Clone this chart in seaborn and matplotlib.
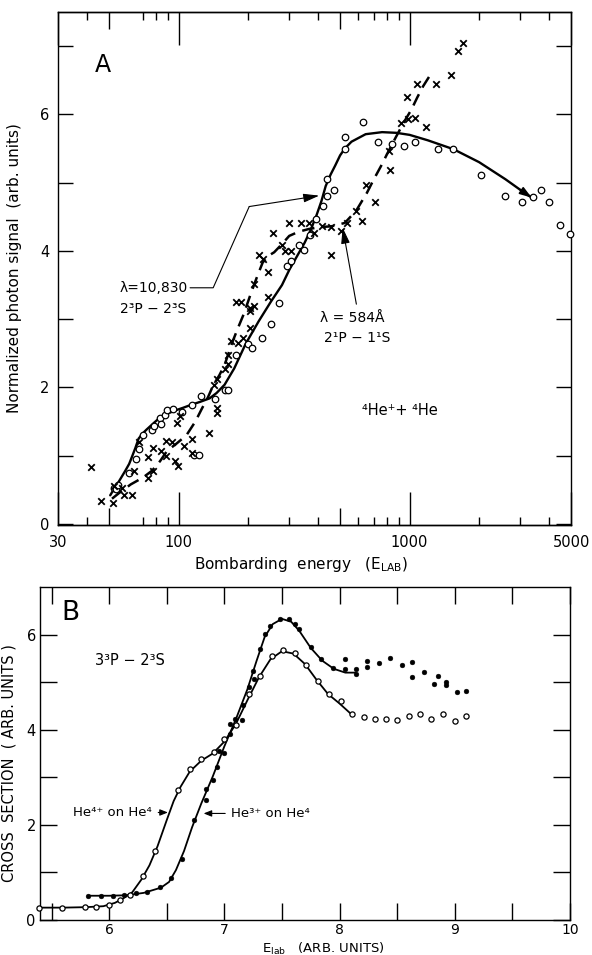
import numpy as np
import pandas as pd
import matplotlib
matplotlib.use("Agg")
import matplotlib.pyplot as plt
import matplotlib.ticker as mticker
import seaborn as sns

# ---------------- Panel A data ----------------
a_circ_x = [52.4, 53.3, 54.8, 61, 65, 67, 69.7, 76.6, 78, 82.6, 84, 87, 89, 94.5, 103, 114,
            116.5, 122, 125, 144, 158, 164, 177, 200, 208, 229, 252, 272, 294, 307, 331, 348,
            372, 394, 420, 437, 438, 471, 524, 524, 628, 731, 843, 944, 1059, 1331, 1549,
            2046, 2590, 3074, 3420, 3719, 4012, 4498, 4950]
a_circ_y = [0.53, 0.51, 0.57, 0.75, 0.95, 1.10, 1.30, 1.37, 1.44, 1.55, 1.47, 1.59, 1.67, 1.68,
            1.64, 1.75, 1.01, 1.01, 1.88, 1.83, 1.96, 1.96, 2.48, 2.63, 2.58, 2.73, 2.93, 3.24,
            3.78, 3.85, 4.08, 4.02, 4.24, 4.47, 4.66, 4.80, 5.05, 4.89, 5.49, 5.67, 5.89, 5.59,
            5.57, 5.54, 5.60, 5.49, 5.49, 5.11, 4.81, 4.72, 4.79, 4.89, 4.72, 4.38, 4.25]

a_cross_x = [41.8, 46, 51.9, 52.2, 56.7, 57.7, 62.7, 63.7, 67.6, 73.5, 77.7, 73.5, 77.7, 83.6,
             87.9, 87.9, 93.9, 96.4, 99.7, 98, 101, 105.8, 113.8, 113.8, 134.6, 145.9, 145.9,
             142.6, 146, 158, 163, 163, 169, 180, 189, 204, 204, 177, 187, 203, 212, 212, 222,
             231, 243, 243, 257, 279, 288, 307, 301, 338, 365, 386, 417, 455, 458, 504, 534,
             587, 622, 645, 705, 811, 826, 916, 982, 1059, 1178, 973, 1079, 1306, 1510, 1628, 1703]
a_cross_y = [0.83, 0.33, 0.31, 0.55, 0.53, 0.42, 0.42, 0.78, 1.20, 0.67, 0.78, 0.98, 1.12, 1.07,
             0.99, 1.22, 1.20, 0.92, 0.85, 1.48, 1.58, 1.14, 1.24, 1.04, 1.34, 1.70, 1.63,
             2.04, 2.13, 2.27, 2.34, 2.48, 2.68, 2.65, 2.73, 2.87, 3.17, 3.25, 3.25, 3.12, 3.20,
             3.52, 3.94, 3.88, 3.69, 3.33, 4.26, 4.09, 4.00, 4.00, 4.41, 4.41, 4.41, 4.26, 4.37,
             3.94, 4.35, 4.29, 4.41, 4.59, 4.44, 4.96, 4.72, 5.46, 5.19, 5.87, 5.93, 5.95, 5.82,
             6.26, 6.44, 6.44, 6.57, 6.93, 7.05]

# fitted curves (as drawn in the figure)
a_solid_x = [50.5, 52.4, 55, 58.7, 61, 63, 65, 67, 70, 72.4, 78, 83, 90, 96, 104, 112, 124, 136,
             146, 158, 174, 195, 222, 250, 280, 302, 325, 351, 372, 394, 415, 433, 455, 476,
             500, 524, 560, 645, 760, 876, 1000, 1200, 1549, 2000, 2600, 3000, 3380]
a_solid_y = [0.42, 0.51, 0.62, 0.78, 0.88, 1.00, 1.12, 1.25, 1.33, 1.38, 1.48, 1.56, 1.62, 1.66,
             1.70, 1.74, 1.79, 1.84, 1.92, 2.04, 2.28, 2.64, 2.97, 3.25, 3.50, 3.73, 3.92, 4.12,
             4.30, 4.51, 4.73, 4.95, 5.12, 5.25, 5.40, 5.50, 5.60, 5.71, 5.74, 5.73, 5.70, 5.62,
             5.49, 5.30, 5.05, 4.90, 4.78]
a_dash_x = [51.4, 55, 62, 70, 76.6, 83, 89, 98, 108, 118, 126, 134, 141, 150, 158, 171, 181, 191,
            206, 220, 231, 245, 259, 280, 301, 330, 365, 410, 458, 524, 587, 653, 700, 751, 810,
            876, 950, 1018, 1080, 1143, 1256]
a_dash_y = [0.37, 0.45, 0.58, 0.68, 0.78, 0.92, 1.07, 1.18, 1.30, 1.50, 1.69, 1.86, 2.03, 2.18,
            2.33, 2.67, 2.88, 3.07, 3.39, 3.65, 3.83, 3.93, 3.98, 4.10, 4.22, 4.28, 4.32, 4.35,
            4.36, 4.41, 4.59, 4.85, 5.05, 5.24, 5.46, 5.68, 5.90, 6.07, 6.25, 6.41, 6.63]

a_xticks = [30, 100, 1000, 5000]
a_xticklabels = ["30", "100", "1000", "5000"]
a_xminor = [40, 70, 80, 90, 200, 300, 400, 600, 700, 800, 900, 2000, 3000, 4000]
a_xmedium = [50, 500]
a_yticks = [0, 2, 4, 6]
a_yminor = [1, 3, 5, 7]

# ---------------- Panel B data ----------------
b_open_x = [5.39, 5.59, 5.79, 5.89, 6.00, 6.09, 6.18, 6.29, 6.40, 6.60, 6.70, 6.80, 6.91, 7.00,
            7.10, 7.21, 7.31, 7.41, 7.51, 7.61, 7.71, 7.81, 7.91, 8.01, 8.11, 8.21, 8.31, 8.40,
            8.50, 8.60, 8.70, 8.79, 8.90, 9.00, 9.10]
b_open_y = [0.26, 0.26, 0.28, 0.27, 0.31, 0.43, 0.53, 0.93, 1.44, 2.73, 3.18, 3.38, 3.54, 3.81,
            4.09, 4.75, 5.13, 5.54, 5.67, 5.61, 5.35, 5.03, 4.75, 4.61, 4.33, 4.27, 4.23, 4.22,
            4.20, 4.28, 4.33, 4.23, 4.34, 4.18, 4.28]
b_fill_x = [5.82, 5.93, 6.03, 6.13, 6.23, 6.33, 6.44, 6.54, 6.63, 6.74, 6.84, 6.84, 6.90, 6.94,
            6.95, 7.00, 7.05, 7.05, 7.09, 7.15, 7.16, 7.21, 7.25, 7.26, 7.31, 7.35, 7.40, 7.48,
            7.56, 7.61, 7.65, 7.75, 7.84, 7.94, 8.05, 8.05, 8.14, 8.14, 8.24, 8.24, 8.34, 8.44,
            8.54, 8.63, 8.63, 8.73, 8.85, 8.82, 8.92, 8.92, 9.02, 9.10]
b_fill_y = [0.51, 0.51, 0.51, 0.52, 0.56, 0.59, 0.70, 0.88, 1.29, 2.11, 2.53, 2.76, 2.95, 3.22,
            3.56, 3.51, 3.90, 4.11, 4.22, 4.21, 4.52, 4.90, 5.24, 5.07, 5.69, 6.01, 6.18, 6.32,
            6.32, 6.23, 6.11, 5.73, 5.49, 5.30, 5.49, 5.27, 5.27, 5.18, 5.44, 5.31, 5.41, 5.50,
            5.36, 5.43, 5.11, 5.22, 5.13, 4.97, 5.00, 4.93, 4.80, 4.82]

b_open_curve_x = [5.39, 5.6, 5.8, 5.95, 6.05, 6.12, 6.2, 6.28, 6.35, 6.42, 6.5, 6.56, 6.62, 6.7,
                  6.8, 6.9, 7.0, 7.1, 7.2, 7.3, 7.4, 7.5, 7.6, 7.7, 7.8, 7.9, 8.0, 8.1]
b_open_curve_y = [0.26, 0.26, 0.27, 0.29, 0.36, 0.45, 0.58, 0.85, 1.15, 1.55, 2.10, 2.50, 2.80,
                  3.12, 3.35, 3.50, 3.75, 4.12, 4.62, 5.10, 5.48, 5.65, 5.60, 5.38, 5.05, 4.75,
                  4.55, 4.33]
b_fill_curve_x = [5.82, 6.0, 6.15, 6.3, 6.45, 6.52, 6.58, 6.65, 6.72, 6.8, 6.9, 7.0, 7.1, 7.2,
                  7.28, 7.35, 7.42, 7.5, 7.58, 7.65, 7.75, 7.85, 7.95, 8.05, 8.14]
b_fill_curve_y = [0.51, 0.51, 0.52, 0.57, 0.68, 0.80, 1.05, 1.45, 1.95, 2.45, 3.02, 3.65, 4.22,
                  4.85, 5.45, 5.95, 6.22, 6.33, 6.27, 6.08, 5.72, 5.45, 5.28, 5.20, 5.20]

b_xticks = [6, 7, 8, 9, 10]
b_xticklabels = ["6", "7", "8", "9", "10"]
b_xminor = [5.5, 6.5, 7.5, 8.5, 9.5]
b_yticks = [0, 2, 4, 6]
b_yminor = [1, 3, 5]

# ---------------- style ----------------
sns.set_theme(style="ticks")
plt.rcParams["font.family"] = ["DejaVu Sans"]
plt.rcParams.update({
    "axes.edgecolor": "black", "axes.linewidth": 1.0,
    "xtick.color": "black", "ytick.color": "black",
    "text.color": "black", "axes.labelcolor": "black",
    "xtick.labelsize": 10.5, "ytick.labelsize": 10.5,
    "mathtext.default": "regular",
})

fig = plt.figure(figsize=(5.92, 9.55), dpi=100)

# ================= Panel A =================
axA = fig.add_axes([58 / 592, 1 - 525 / 955, 513 / 592, 513 / 955])
axA.set_xscale("log")
axA.set_xlim(30, 5000)
axA.set_ylim(-0.015, 7.5)

sns.lineplot(x=a_solid_x, y=a_solid_y, ax=axA, color="black", lw=1.7,
             sort=False, estimator=None, solid_joinstyle="round")
sns.lineplot(x=a_dash_x, y=a_dash_y, ax=axA, color="black", lw=1.8,
             sort=False, estimator=None, linestyle=(0, (5, 3)))
sns.scatterplot(x=a_circ_x, y=a_circ_y, ax=axA, marker="o", s=22,
                facecolors="white", edgecolor="black", linewidth=0.9, zorder=3, clip_on=False)
sns.scatterplot(x=a_cross_x, y=a_cross_y, ax=axA, marker="x", s=22,
                color="black", linewidth=1.3, zorder=3)

axA.xaxis.set_major_locator(mticker.FixedLocator(a_xticks))
axA.xaxis.set_major_formatter(mticker.FixedFormatter(a_xticklabels))
axA.xaxis.set_minor_locator(mticker.FixedLocator(a_xminor))
axA.xaxis.set_minor_formatter(mticker.NullFormatter())
axA.yaxis.set_major_locator(mticker.FixedLocator(a_yticks))
axA.yaxis.set_minor_locator(mticker.FixedLocator(a_yminor))
axA.tick_params(axis="x", which="major", direction="in", length=24, width=1.0,
                top=True, pad=7)
axA.tick_params(axis="x", which="minor", direction="in", length=6, width=1.0, top=True)
axA.tick_params(axis="y", which="both", direction="in", length=11, width=1.0,
                right=True, pad=6)

for loc in ("bottom", "top"):
    sec = axA.secondary_xaxis(loc)
    sec.xaxis.set_major_locator(mticker.FixedLocator(a_xmedium))
    sec.xaxis.set_major_formatter(mticker.NullFormatter())
    sec.xaxis.set_minor_locator(mticker.NullLocator())
    sec.tick_params(axis="x", which="major", direction="in", length=12, width=1.0)

axA.set_xlabel(r"Bombarding  energy   (E$_{LAB}$)", fontsize=11)
axA.set_ylabel("Normalized photon signal  (arb. units)", fontsize=11)
axA.xaxis.set_label_coords((301 - 58) / 513, -0.058)
axA.yaxis.set_label_coords(-0.07, 0.5)

axA.text(47, 6.72, "A", fontsize=17, ha="center", va="center")

# annotation for lambda = 10,830
leader_x = [112, 141, 202]
leader_y = [3.46, 3.46, 4.65]
axA.text(55.5, 3.46, "λ=10,830", fontsize=10, ha="left", va="center")
axA.text(55.5, 3.15, "2³P − 2³S", fontsize=10, ha="left", va="center")
sns.lineplot(x=leader_x, y=leader_y, ax=axA, color="black", lw=0.8, sort=False, estimator=None)
axA.annotate("", xy=(406, 4.81), xytext=(202, 4.65),
             arrowprops=dict(arrowstyle="-|>,head_length=0.8,head_width=0.22",
                             color="black", lw=0.8, shrinkA=0, shrinkB=0))

# annotation for lambda = 584
axA.text(408, 3.02, "λ = 584Å", fontsize=10, ha="left", va="center")
axA.text(425, 2.72, "2¹P − 1¹S", fontsize=10, ha="left", va="center")
axA.annotate("", xy=(513, 4.34), xytext=(588, 3.22),
             arrowprops=dict(arrowstyle="-|>,head_length=0.8,head_width=0.22",
                             color="black", lw=0.8, shrinkA=0, shrinkB=0))
# arrowhead at the end of solid curve
axA.annotate("", xy=(a_solid_x[-1], a_solid_y[-1]), xytext=(a_solid_x[-2], a_solid_y[-2]),
             arrowprops=dict(arrowstyle="-|>,head_length=0.6,head_width=0.2",
                             color="black", lw=1.2, shrinkA=0, shrinkB=0))

axA.text(621, 1.66, "⁴He⁺+ ⁴He", fontsize=10.5, ha="left", va="center")

# ================= Panel B =================
axB = fig.add_axes([40 / 592, 1 - 920 / 955, 530 / 592, 333 / 955])
axB.set_xlim(5.4, 10)
axB.set_ylim(0, 7)

sns.lineplot(x=b_open_curve_x, y=b_open_curve_y, ax=axB, color="black", lw=1.3,
             sort=False, estimator=None)
sns.lineplot(x=b_fill_curve_x, y=b_fill_curve_y, ax=axB, color="black", lw=1.3,
             sort=False, estimator=None)
sns.scatterplot(x=b_open_x, y=b_open_y, ax=axB, marker="o", s=14,
                facecolors="white", edgecolor="black", linewidth=0.9, zorder=3, clip_on=False)
sns.scatterplot(x=b_fill_x, y=b_fill_y, ax=axB, marker="o", s=12,
                color="black", edgecolor="black", linewidth=0.3, zorder=3)

axB.xaxis.set_major_locator(mticker.FixedLocator(b_xticks))
axB.xaxis.set_major_formatter(mticker.FixedFormatter(b_xticklabels))
axB.xaxis.set_minor_locator(mticker.FixedLocator(b_xminor))
axB.yaxis.set_major_locator(mticker.FixedLocator(b_yticks))
axB.yaxis.set_minor_locator(mticker.FixedLocator(b_yminor))
axB.tick_params(axis="both", which="both", direction="in", length=12, width=1.0,
                top=True, right=True)
axB.tick_params(axis="x", which="both", pad=2, labelsize=10)
axB.tick_params(axis="y", which="both", pad=3)

axB.set_xlabel(r"E$_{lab}$   (ARB. UNITS)", fontsize=9.5)
axB.set_ylabel("CROSS  SECTION  ( ARB. UNITS )", fontsize=10.5)
axB.xaxis.set_label_coords((323 - 40) / 530, -0.062)
axB.yaxis.set_label_coords(-0.045, 0.47)

axB.text(5.66, 6.45, "B", fontsize=19, ha="center", va="center")
axB.text(5.88, 5.45, "3³P − 2³S", fontsize=10.5, ha="left", va="center")

axB.annotate("He⁴⁺ on He⁴", xy=(6.51, 2.26), xytext=(5.69, 2.26), fontsize=9.5,
             ha="left", va="center",
             arrowprops=dict(arrowstyle="-|>,head_length=0.5,head_width=0.2",
                             color="black", lw=0.8, shrinkA=2, shrinkB=0))
axB.annotate("He³⁺ on He⁴", xy=(6.82, 2.24), xytext=(7.06, 2.24), fontsize=9.5,
             ha="left", va="center",
             arrowprops=dict(arrowstyle="-|>,head_length=0.5,head_width=0.2",
                             color="black", lw=0.8, shrinkA=2, shrinkB=0))

fig.savefig("out.png", dpi=100)
